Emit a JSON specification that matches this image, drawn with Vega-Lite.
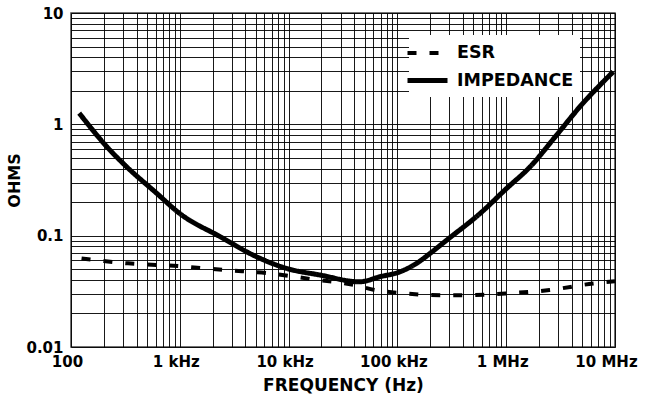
{
  "$schema": "https://vega.github.io/schema/vega-lite/v6.json",
  "width": 544,
  "height": 334,
  "autosize": "none",
  "padding": {"left": 71, "top": 13, "right": 30, "bottom": 58},
  "background": "white",
  "config": {
    "view": {"stroke": "#444", "strokeWidth": 1.5},
    "font": "DejaVu Sans"
  },
  "data": {
    "values": [
      {"series": "IMPEDANCE", "f": 119, "z": 1.26},
      {"series": "IMPEDANCE", "f": 228, "z": 0.587},
      {"series": "IMPEDANCE", "f": 313, "z": 0.43},
      {"series": "IMPEDANCE", "f": 614, "z": 0.24},
      {"series": "IMPEDANCE", "f": 1000, "z": 0.158},
      {"series": "IMPEDANCE", "f": 2345, "z": 0.098},
      {"series": "IMPEDANCE", "f": 5090, "z": 0.0646},
      {"series": "IMPEDANCE", "f": 9600, "z": 0.0508},
      {"series": "IMPEDANCE", "f": 19450, "z": 0.0443},
      {"series": "IMPEDANCE", "f": 45000, "z": 0.0385},
      {"series": "IMPEDANCE", "f": 69200, "z": 0.0428},
      {"series": "IMPEDANCE", "f": 106000, "z": 0.0474},
      {"series": "IMPEDANCE", "f": 150000, "z": 0.0564},
      {"series": "IMPEDANCE", "f": 200000, "z": 0.0694},
      {"series": "IMPEDANCE", "f": 284000, "z": 0.0912},
      {"series": "IMPEDANCE", "f": 574000, "z": 0.158},
      {"series": "IMPEDANCE", "f": 1010000, "z": 0.266},
      {"series": "IMPEDANCE", "f": 1660000, "z": 0.416},
      {"series": "IMPEDANCE", "f": 2910000, "z": 0.802},
      {"series": "IMPEDANCE", "f": 4760000, "z": 1.44},
      {"series": "IMPEDANCE", "f": 9640000, "z": 2.97},
      {"series": "ESR", "f": 125, "z": 0.0625},
      {"series": "ESR", "f": 334, "z": 0.0564},
      {"series": "ESR", "f": 961, "z": 0.0533},
      {"series": "ESR", "f": 2600, "z": 0.0491},
      {"series": "ESR", "f": 6460, "z": 0.0461},
      {"series": "ESR", "f": 16750, "z": 0.0405},
      {"series": "ESR", "f": 40700, "z": 0.036},
      {"series": "ESR", "f": 62000, "z": 0.0325},
      {"series": "ESR", "f": 101000, "z": 0.0307},
      {"series": "ESR", "f": 255000, "z": 0.0292},
      {"series": "ESR", "f": 400000, "z": 0.0292},
      {"series": "ESR", "f": 1010000, "z": 0.0303},
      {"series": "ESR", "f": 2500000, "z": 0.0325},
      {"series": "ESR", "f": 6300000, "z": 0.0372},
      {"series": "ESR", "f": 10000000, "z": 0.039}
    ]
  },
  "mark": {"type": "line", "interpolate": "monotone", "clip": true, "color": "black"},
  "encoding": {
    "x": {
      "field": "f",
      "type": "quantitative",
      "scale": {"type": "log", "domain": [100, 10000000], "nice": false},
      "axis": {
        "values": [100,200,300,400,500,600,700,800,900,1000,2000,3000,4000,5000,6000,7000,8000,9000,10000,20000,30000,40000,50000,60000,70000,80000,90000,100000,200000,300000,400000,500000,600000,700000,800000,900000,1000000,2000000,3000000,4000000,5000000,6000000,7000000,8000000,9000000,10000000],
        "labelExpr": "datum.value == 100 ? '100' : datum.value == 1000 ? '1 kHz' : datum.value == 10000 ? '10 kHz' : datum.value == 100000 ? '100 kHz' : datum.value == 1000000 ? '1 MHz' : datum.value == 10000000 ? '10 MHz' : ''",
        "labelOverlap": false,
        "labelFlush": false,
        "labelBound": false,
        "labelFont": "DejaVu Sans",
        "labelFontWeight": "bold",
        "labelFontSize": 15,
        "labelColor": "black",
        "labelPadding": 7,
        "labelOffset": {"condition": {"test": "datum.value == 10000000", "value": -9}, "value": -4},
        "ticks": false,
        "domain": false,
        "grid": true,
        "gridColor": "black",
        "gridWidth": 1,
        "gridOpacity": 0.9,
        "title": "FREQUENCY (Hz)",
        "titleFont": "DejaVu Sans",
        "titleFontWeight": "bold",
        "titleFontSize": 17,
        "titleColor": "black",
        "titlePadding": 8
      }
    },
    "y": {
      "field": "z",
      "type": "quantitative",
      "scale": {"type": "log", "domain": [0.01, 10], "nice": false},
      "axis": {
        "values": [0.01,0.02,0.03,0.04,0.05,0.06,0.07,0.08,0.09,0.1,0.2,0.3,0.4,0.5,0.6,0.7,0.8,0.9,1,2,3,4,5,6,7,8,9,10],
        "labelExpr": "datum.value == 0.01 ? '0.01' : datum.value == 0.1 ? '0.1' : datum.value == 1 ? '1' : datum.value == 10 ? '10' : ''",
        "labelOverlap": false,
        "labelBound": false,
        "labelFlush": false,
        "labelFont": "DejaVu Sans",
        "labelFontWeight": "bold",
        "labelFontSize": 15,
        "labelColor": "black",
        "labelPadding": 8,
        "ticks": false,
        "domain": false,
        "grid": true,
        "gridColor": "black",
        "gridWidth": 1,
        "gridOpacity": 0.9,
        "title": "OHMS",
        "titleFont": "DejaVu Sans",
        "titleFontWeight": "bold",
        "titleFontSize": 16,
        "titleColor": "black",
        "titlePadding": 3
      }
    },
    "strokeDash": {
      "field": "series",
      "type": "nominal",
      "scale": {"domain": ["ESR", "IMPEDANCE"], "range": [[9, 13], [1, 0]]},
      "legend": {
        "title": null,
        "orient": "none",
        "legendX": 338,
        "legendY": 22,
        "fillColor": "white",
        "padding": 6,
        "symbolType": "M-2,0H2",
        "symbolSize": 400,
        "symbolStrokeColor": "black",
        "labelFont": "DejaVu Sans",
        "labelFontWeight": "bold",
        "labelFontSize": 17.5,
        "labelColor": "black",
        "labelOffset": 17,
        "rowPadding": 6
      }
    },
    "strokeWidth": {
      "field": "series",
      "type": "nominal",
      "scale": {"domain": ["ESR", "IMPEDANCE"], "range": [4, 5]}
    }
  }
}
